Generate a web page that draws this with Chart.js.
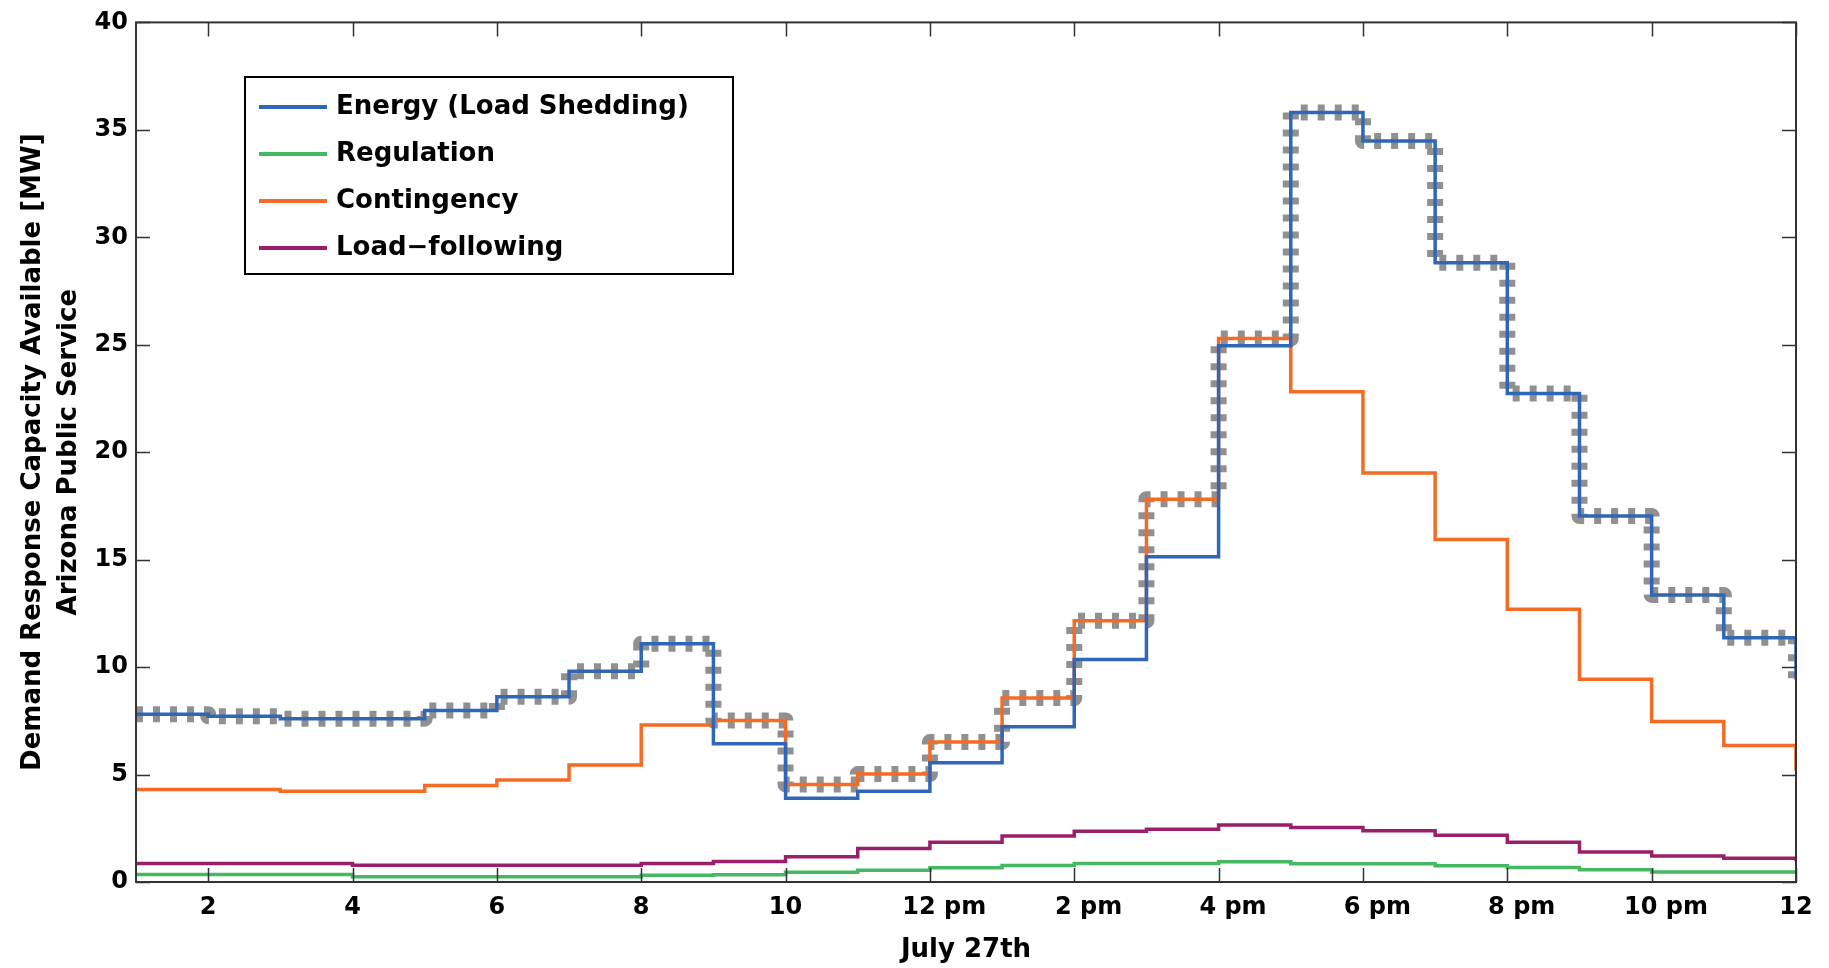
<!DOCTYPE html>
<html>
<head>
<meta charset="utf-8">
<script src="https://cdn.jsdelivr.net/npm/chart.js@4.4.1/dist/chart.umd.min.js"></script>
<style>
  html, body { margin: 0; padding: 0; background: #fff; }
  #wrap { width: 1829px; height: 968px; }
</style>
</head>
<body>
<div id="wrap"><canvas id="drChart"></canvas></div>
<script>
// hour of day (1..24), value held until the next hour (stairs)
var hours = [1, 2, 3, 4, 5, 6, 7, 8, 9, 10, 11, 12, 13, 14, 15, 16, 17, 18, 19, 20, 21, 22, 23, 24];
var hourTicks = [2, 4, 6, 8, 10, 12, 14, 16, 18, 20, 22, 24];
var tickLabels = ['2', '4', '6', '8', '10', '12 pm', '2 pm', '4 pm', '6 pm', '8 pm', '10 pm', '12'];

var energy = [7.81, 7.71, 7.60, 7.60, 7.98, 8.62, 9.81, 11.09, 6.43, 3.90, 4.22, 5.55,
              7.23, 10.35, 15.14, 24.95, 35.81, 34.48, 28.81, 22.73, 17.03, 13.36, 11.36, 9.42];
var regulation = [0.35, 0.35, 0.35, 0.25, 0.25, 0.25, 0.25, 0.31, 0.34, 0.45, 0.55, 0.66,
                  0.77, 0.86, 0.86, 0.94, 0.85, 0.85, 0.76, 0.67, 0.57, 0.46, 0.46, 0.46];
var contingency = [4.30, 4.30, 4.22, 4.22, 4.49, 4.75, 5.45, 7.31, 7.52, 4.54, 5.02, 6.51,
                   8.56, 12.16, 17.81, 25.29, 22.81, 19.03, 15.94, 12.69, 9.44, 7.47, 6.35, 5.18];
var loadFollowing = [0.86, 0.86, 0.86, 0.78, 0.78, 0.78, 0.78, 0.86, 0.95, 1.17, 1.56, 1.85,
                     2.14, 2.36, 2.46, 2.65, 2.54, 2.38, 2.17, 1.85, 1.40, 1.21, 1.10, 0.97];
// grey dotted envelope
var envelope = [7.81, 7.71, 7.60, 7.60, 7.98, 8.62, 9.81, 11.09, 7.52, 4.54, 5.02, 6.51,
                8.56, 12.16, 17.81, 25.29, 35.81, 34.48, 28.81, 22.73, 17.03, 13.36, 11.36, 9.42];

var FONT = '"DejaVu Sans", Verdana, sans-serif';

function pts(vals) {
  return hours.map(function (h, i) { return { x: h, y: vals[i] }; });
}

function line(label, vals, color) {
  return {
    label: label,
    data: pts(vals),
    borderColor: color,
    backgroundColor: color,
    borderWidth: 3.5,
    stepped: true,
    pointRadius: 0,
    fill: false
  };
}

// box around the plot + inward ticks on all four sides
var framePlugin = {
  id: 'frame',
  afterDatasetsDraw: function (chart) {
    var a = chart.chartArea, ctx = chart.ctx;
    var xs = chart.scales.x, ys = chart.scales.y;
    var len = 14;
    ctx.save();
    ctx.strokeStyle = '#333';
    ctx.lineWidth = 1.5;
    ctx.beginPath();
    xs.ticks.forEach(function (t) {
      var px = Math.round(xs.getPixelForValue(t.value)) + 0.5;
      ctx.moveTo(px, a.bottom); ctx.lineTo(px, a.bottom - len);
      ctx.moveTo(px, a.top); ctx.lineTo(px, a.top + len);
    });
    ys.ticks.forEach(function (t) {
      var py = Math.round(ys.getPixelForValue(t.value)) + 0.5;
      ctx.moveTo(a.left, py); ctx.lineTo(a.left + len, py);
      ctx.moveTo(a.right, py); ctx.lineTo(a.right - len, py);
    });
    ctx.stroke();
    ctx.lineWidth = 2;
    ctx.strokeRect(a.left, a.top, a.right - a.left, a.bottom - a.top);
    ctx.restore();
  }
};

// legend box inside the plot, upper left
var boxLegend = {
  id: 'boxLegend',
  afterDraw: function (chart) {
    var ctx = chart.ctx;
    var sets = chart.data.datasets.slice(0, 4);
    var x0 = 245, y0 = 77, w = 488, h = 197;
    ctx.save();
    ctx.fillStyle = '#fff';
    ctx.fillRect(x0, y0, w, h);
    ctx.strokeStyle = '#000';
    ctx.lineWidth = 2;
    ctx.strokeRect(x0, y0, w, h);
    ctx.font = 'bold 26px ' + FONT;
    ctx.textBaseline = 'middle';
    ctx.textAlign = 'left';
    sets.forEach(function (ds, i) {
      var cy = y0 + 30 + i * 47;
      ctx.strokeStyle = ds.borderColor;
      ctx.lineWidth = 4;
      ctx.beginPath();
      ctx.moveTo(x0 + 14, cy);
      ctx.lineTo(x0 + 82, cy);
      ctx.stroke();
      ctx.fillStyle = '#000';
      ctx.fillText(ds.label, x0 + 91, cy);
    });
    ctx.restore();
  }
};

var ctx = document.getElementById('drChart');
var drChart = new Chart(ctx, {
  type: 'line',
  data: {
    datasets: [
      line('Energy (Load Shedding)', energy, '#3066b6'),
      line('Regulation', regulation, '#45b864'),
      line('Contingency', contingency, '#f56b24'),
      line('Load\u2212following', loadFollowing, '#9a1f6a'),
      {
        label: 'Envelope',
        data: pts(envelope),
        borderColor: '#909090',
        borderWidth: 16,
        borderDash: [7, 10],
        borderJoinStyle: 'round',
        stepped: true,
        pointRadius: 0,
        fill: false
      }
    ]
  },
  options: {
    responsive: true,
    maintainAspectRatio: false,
    animation: false,
    devicePixelRatio: 1,
    layout: { padding: { top: 20, right: 33, left: 0, bottom: 0 } },
    plugins: {
      legend: { display: false },
      tooltip: { enabled: false }
    },
    scales: {
      x: {
        type: 'linear',
        min: 1,
        max: 24,
        afterBuildTicks: function (s) {
          s.ticks = hourTicks.map(function (v) { return { value: v }; });
        },
        afterFit: function (s) { s.height = 86; },
        grid: { display: false, drawTicks: false },
        border: { display: false },
        ticks: {
          color: '#000',
          padding: 11,
          maxRotation: 0,
          autoSkip: false,
          font: { family: FONT, size: 24, weight: 'bold' },
          callback: function (v) {
            var lab = tickLabels[hourTicks.indexOf(v)];
            // keep the hour number roughly centred on the tick
            return lab.indexOf('pm') > 0 ? '\u2003\u2009' + lab : lab;
          }
        },
        title: {
          display: true,
          text: 'July 27th',
          color: '#000',
          padding: { top: 0, bottom: 2 },
          font: { family: FONT, size: 26, weight: 'bold' }
        }
      },
      y: {
        min: 0,
        max: 40,
        afterFit: function (s) { s.width = 136; },
        grid: { display: false, drawTicks: false },
        border: { display: false },
        ticks: {
          stepSize: 5,
          color: '#000',
          padding: 8,
          font: { family: FONT, size: 24, weight: 'bold' }
        },
        title: {
          display: true,
          text: ['Demand Response Capacity Available [MW]', 'Arizona Public Service'],
          color: '#000',
          padding: { top: 15, bottom: 0 },
          font: { family: FONT, size: 26, weight: 'bold', lineHeight: 1.38 }
        }
      }
    }
  },
  plugins: [framePlugin, boxLegend]
});
</script>
</body>
</html>
